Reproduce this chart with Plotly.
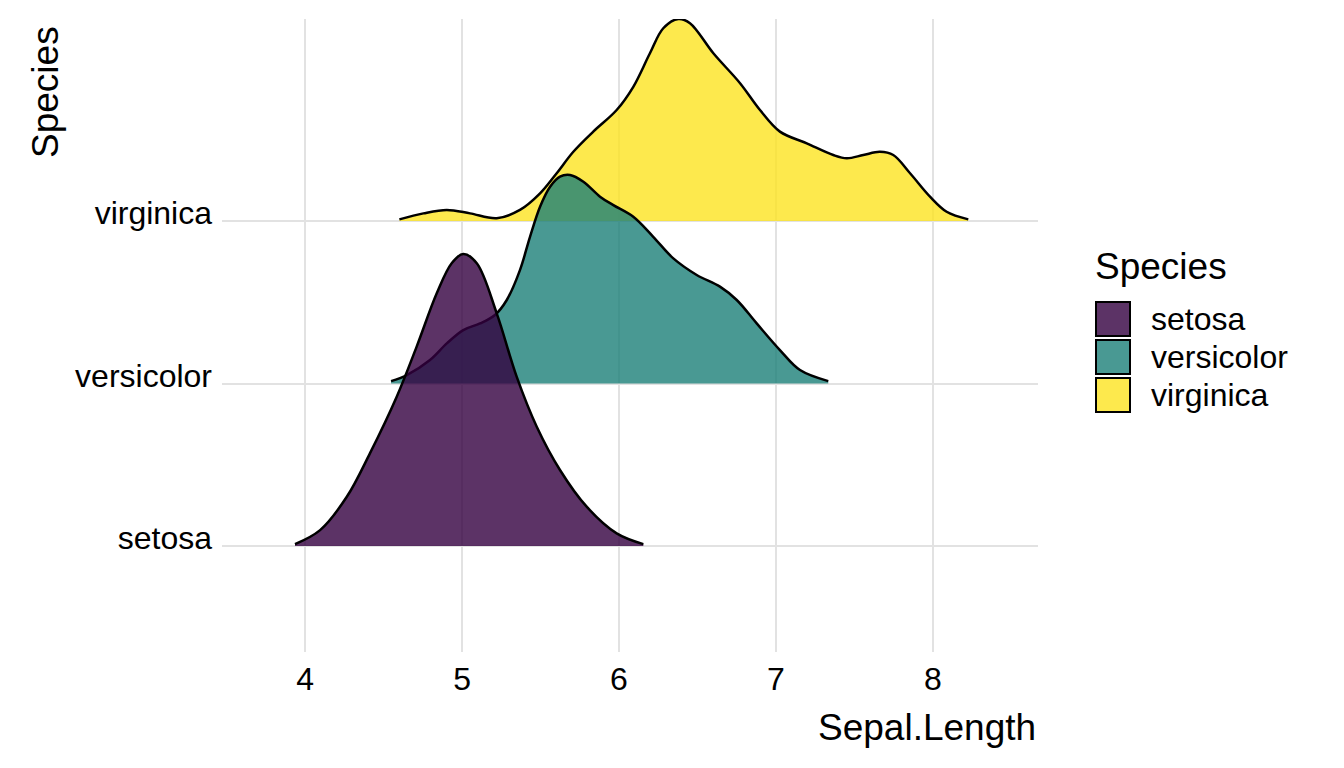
import plotly.graph_objects as go

# ---------------- data ----------------
species = ["setosa", "versicolor", "virginica"]
fill_colors = ["rgba(51,0,64,0.8)", "rgba(28,128,120,0.8)", "rgba(253,228,32,0.8)"]

x_ticks = [4, 5, 6, 7, 8]

# Sepal.Length positions and scaled ridge heights (in units of category spacing)
setosa_x = [3.936, 4.096, 4.266, 4.414, 4.584, 4.711, 4.839, 4.934, 5.008,
            5.094, 5.221, 5.348, 5.476, 5.624, 5.794, 5.985, 6.155]
setosa_h = [0.012, 0.098, 0.303, 0.572, 0.919, 1.227, 1.555, 1.740, 1.797,
            1.740, 1.432, 1.042, 0.734, 0.468, 0.242, 0.078, 0.012]

versicolor_x = [4.548, 4.648, 4.796, 4.903, 5.008, 5.115, 5.210, 5.285, 5.369,
                5.433, 5.497, 5.561, 5.624, 5.688, 5.773, 5.879, 5.964, 6.091,
                6.218, 6.346, 6.495, 6.643, 6.750, 6.877, 7.025, 7.153, 7.333]
versicolor_h = [0.015, 0.052, 0.145, 0.247, 0.329, 0.370, 0.422, 0.514, 0.698,
                0.903, 1.088, 1.211, 1.273, 1.283, 1.242, 1.150, 1.098, 1.026,
                0.903, 0.770, 0.668, 0.596, 0.514, 0.370, 0.206, 0.083, 0.015]

virginica_x = [4.601, 4.754, 4.903, 5.051, 5.221, 5.369, 5.497, 5.603, 5.709,
               5.836, 5.985, 6.091, 6.197, 6.282, 6.378, 6.452, 6.601, 6.771,
               6.898, 7.025, 7.196, 7.365, 7.451, 7.556, 7.662, 7.747, 7.854,
               7.981, 8.087, 8.225]
virginica_h = [0.010, 0.047, 0.068, 0.047, 0.017, 0.068, 0.170, 0.294, 0.426,
               0.550, 0.683, 0.826, 1.032, 1.186, 1.243, 1.217, 1.032, 0.848,
               0.683, 0.550, 0.478, 0.406, 0.386, 0.406, 0.426, 0.406, 0.294,
               0.150, 0.057, 0.010]

series_x = [setosa_x, versicolor_x, virginica_x]
series_h = [setosa_h, versicolor_h, virginica_h]

# ---------------- layout geometry ----------------
W, H = 1344, 768
ML, MR, MT, MB = 222, 306, 19, 116
PW, PH = W - ML - MR, H - MT - MB
FONT = "Liberation Sans, Arial, Helvetica, sans-serif"
TICK_SIZE = 32
TITLE_SIZE = 37


def paper_x(px):
    return (px - ML) / PW


def paper_y(py):
    return (H - MB - py) / PH


fig = go.Figure()

# draw from the top ridge down so lower ridges overlap higher ones
for i in reversed(range(len(species))):
    base = i + 1
    xs, hs = series_x[i], series_h[i]
    fig.add_trace(go.Scatter(
        x=[xs[0], xs[-1]], y=[base, base], mode="lines",
        line=dict(width=0, color="rgba(0,0,0,0)"),
        hoverinfo="skip", showlegend=False))
    fig.add_trace(go.Scatter(
        x=xs, y=[base + h for h in hs], mode="lines", name=species[i],
        line=dict(color="black", width=2.5, shape="spline", smoothing=1.0),
        fill="tonexty", fillcolor=fill_colors[i], showlegend=False))

fig.update_layout(
    width=W, height=H,
    margin=dict(l=ML, r=MR, t=MT, b=MB, pad=0),
    paper_bgcolor="white", plot_bgcolor="white",
    font=dict(family=FONT, color="black", size=TICK_SIZE),
    showlegend=False,
    xaxis=dict(range=[3.471, 8.669], tickvals=x_ticks, ticktext=[str(v) for v in x_ticks],
               showgrid=True, gridcolor="#E2E2E2", gridwidth=2, zeroline=False,
               showline=False, ticks="", tickfont=dict(size=TICK_SIZE, color="black"),
               ticklabelstandoff=5),
    yaxis=dict(range=[0.348, 4.243], tickvals=[1, 2, 3], ticktext=species,
               showgrid=True, gridcolor="#E2E2E2", gridwidth=2, zeroline=False,
               showline=False, ticks="", tickfont=dict(size=TICK_SIZE, color="black"),
               ticklabelstandoff=9, ticklabelshift=-8),
)

annotations = [
    dict(text="Sepal.Length", xref="paper", yref="paper", x=1.0, y=paper_y(727),
         xanchor="right", yanchor="middle", showarrow=False,
         font=dict(size=TITLE_SIZE, color="black", family=FONT)),
    dict(text="Species", xref="paper", yref="paper", x=paper_x(45), y=paper_y(24),
         xanchor="center", yanchor="top", textangle=-90, showarrow=False,
         font=dict(size=TITLE_SIZE, color="black", family=FONT)),
    dict(text="Species", xref="paper", yref="paper", x=paper_x(1093), y=paper_y(266),
         xanchor="left", yanchor="middle", showarrow=False,
         font=dict(size=TITLE_SIZE, color="black", family=FONT)),
]

shapes = []
key_tops = [302, 340, 378]
for i, sp in enumerate(species):
    top = key_tops[i]
    shapes.append(dict(type="rect", xref="paper", yref="paper",
                       x0=paper_x(1096), x1=paper_x(1130),
                       y0=paper_y(top + 34), y1=paper_y(top),
                       fillcolor=fill_colors[i], line=dict(color="black", width=2)))
    annotations.append(dict(text=sp, xref="paper", yref="paper", x=paper_x(1149),
                            y=paper_y(top + 17), xanchor="left", yanchor="middle",
                            showarrow=False, font=dict(size=TICK_SIZE, color="black", family=FONT)))

fig.update_layout(annotations=annotations, shapes=shapes)
fig.write_html("out.html")
